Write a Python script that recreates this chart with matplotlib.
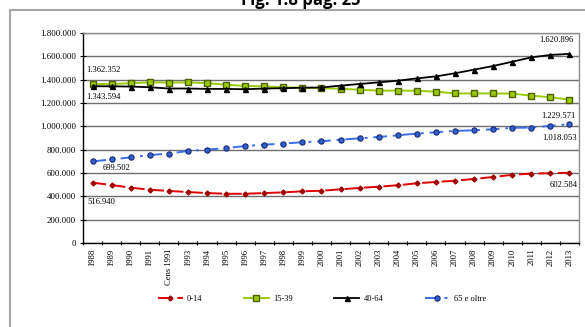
import matplotlib
matplotlib.use("Agg")
import matplotlib.pyplot as plt
from matplotlib.patches import Rectangle
from matplotlib.ticker import FuncFormatter

categories = ["1988", "1989", "1990", "1991", "Cens 1991", "1993", "1994", "1995", "1996",
              "1997", "1998", "1999", "2000", "2001", "2002", "2003", "2004", "2005", "2006",
              "2007", "2008", "2009", "2010", "2011", "2012", "2013"]

age_0_14 = [516940, 497000, 474000, 457000, 446000, 437000, 428000, 422000, 422000, 428000,
            434000, 443000, 448000, 460000, 472000, 483000, 495000, 512000, 523000, 534000,
            549000, 566000, 584000, 595000, 598000, 602584]
age_15_39 = [1362352, 1362000, 1370000, 1377000, 1375000, 1377000, 1370000, 1357000, 1346000,
             1343000, 1335000, 1331000, 1327000, 1322000, 1314000, 1306000, 1306000, 1305000,
             1297000, 1282000, 1282000, 1282000, 1280000, 1263000, 1249000, 1229571]
age_40_64 = [1343594, 1343000, 1341000, 1335000, 1324000, 1324000, 1321000, 1321000, 1318000,
             1324000, 1327000, 1331000, 1333000, 1349000, 1363000, 1377000, 1391000, 1411000,
             1428000, 1455000, 1486000, 1517000, 1554000, 1591000, 1612000, 1620896]
age_65_plus = [699502, 716000, 734000, 754000, 766000, 789000, 800000, 814000, 831000, 843000,
               852000, 864000, 872000, 886000, 897000, 909000, 923000, 938000, 949000, 961000,
               966000, 975000, 987000, 989000, 1004000, 1018053]

labels = ["0-14", "15-39", "40-64", "65 e oltre"]
y_ticks = [0, 200000, 400000, 600000, 800000, 1000000, 1200000, 1400000, 1600000, 1800000]

W, H = 585, 327
fig = plt.figure(figsize=(W / 100, H / 100), dpi=100)
fig.patch.set_facecolor("white")

# outer frame
fig.add_artist(Rectangle((10 / W, -0.05), 1.1, 1 - 10 / H + 0.05, transform=fig.transFigure,
                         fill=False, edgecolor="#a6a6a6", linewidth=1.5))

fig.text(301 / W, 1 - 5 / H, "Fig. 1.8 pag. 25", ha="center", va="baseline",
         fontsize=12, fontweight="bold", family="Open Sans", color="black")

ax = fig.add_axes([83 / W, 1 - 243 / H, (579 - 83) / W, (243 - 33) / H])
x = list(range(len(categories)))

ax.plot(x, age_0_14, color="#e00000", lw=1.4, dashes=(7, 3), marker="D", markersize=2.5,
        markerfacecolor="#a00000", markeredgecolor="#a00000", label=labels[0], zorder=3)
ax.plot(x, age_15_39, color="#99cc00", lw=1.4, marker="s", markersize=3.8,
        markerfacecolor="#99cc00", markeredgecolor="#4d5f00", markeredgewidth=1.0,
        label=labels[1], zorder=3)
ax.plot(x, age_40_64, color="black", lw=1.3, marker="^", markersize=3.6,
        markerfacecolor="black", markeredgecolor="black", label=labels[2], zorder=4)
ax.plot(x, age_65_plus, color="#3a6ee8", lw=1.4, dashes=(7, 3, 1.5, 3), marker="o",
        markersize=3.8, markerfacecolor="#2f5fd0", markeredgecolor="#1a2a70",
        markeredgewidth=0.8, label=labels[3], zorder=3)

ax.set_xlim(-0.5, len(categories) - 0.5)
ax.set_ylim(0, 1800000)
ax.set_yticks(y_ticks)
ax.yaxis.set_major_formatter(FuncFormatter(lambda v, p: f"{int(v):,}".replace(",", ".")))
ax.set_xticks(x)
ax.set_xticklabels(categories, rotation=90, family="Liberation Serif", fontsize=6.2)
ax.set_xticks([i - 0.5 for i in range(len(categories) + 1)], minor=True)
ax.tick_params(axis="x", which="major", length=0, pad=4)
ax.tick_params(axis="x", which="minor", length=3, direction="inout", width=0.8)
ax.tick_params(axis="y", length=4, direction="inout", width=0.8, labelsize=6.4, pad=3)
for t in ax.get_yticklabels():
    t.set_family("Liberation Serif")

ax.grid(axis="y", color="#6e6e6e", lw=1.0)
ax.set_axisbelow(True)
for s in ["top", "right"]:
    ax.spines[s].set_color("#8c8c8c")
    ax.spines[s].set_linewidth(1.0)
ax.spines["left"].set_color("black")
ax.spines["bottom"].set_color("black")
ax.spines["left"].set_linewidth(1.0)
ax.spines["bottom"].set_linewidth(1.0)

def fmt(v):
    return f"{v:,}".replace(",", ".")

ann = dict(family="Liberation Serif", fontsize=6.2, color="black")
ax.annotate(fmt(age_15_39[0]), (86 / W, 1 - 70 / H), xycoords="figure fraction", va="center", **ann)
ax.annotate(fmt(age_40_64[0]), (86 / W, 1 - 97 / H), xycoords="figure fraction", va="center", **ann)
ax.annotate(fmt(age_65_plus[0]), (103 / W, 1 - 168 / H), xycoords="figure fraction", va="center", **ann)
ax.annotate(fmt(age_0_14[0]), (87 / W, 1 - 202 / H), xycoords="figure fraction", va="center", **ann)
ax.annotate(fmt(age_40_64[-1]), (574 / W, 1 - 40 / H), xycoords="figure fraction", va="center", ha="right", **ann)
ax.annotate(fmt(age_15_39[-1]), (576 / W, 1 - 116 / H), xycoords="figure fraction", va="center", ha="right", **ann)
ax.annotate(fmt(age_65_plus[-1]), (577 / W, 1 - 138 / H), xycoords="figure fraction", va="center", ha="right", **ann)
ax.annotate(fmt(age_0_14[-1]), (578 / W, 1 - 185 / H), xycoords="figure fraction", va="center", ha="right", **ann)

leg = fig.legend(loc="center", bbox_to_anchor=(322 / W, 1 - 299 / H), ncol=4, frameon=False,
                 prop={"family": "Liberation Serif", "size": 6}, handlelength=3.0,
                 columnspacing=5, handletextpad=0.5)

fig.savefig("out.png", dpi=100)
